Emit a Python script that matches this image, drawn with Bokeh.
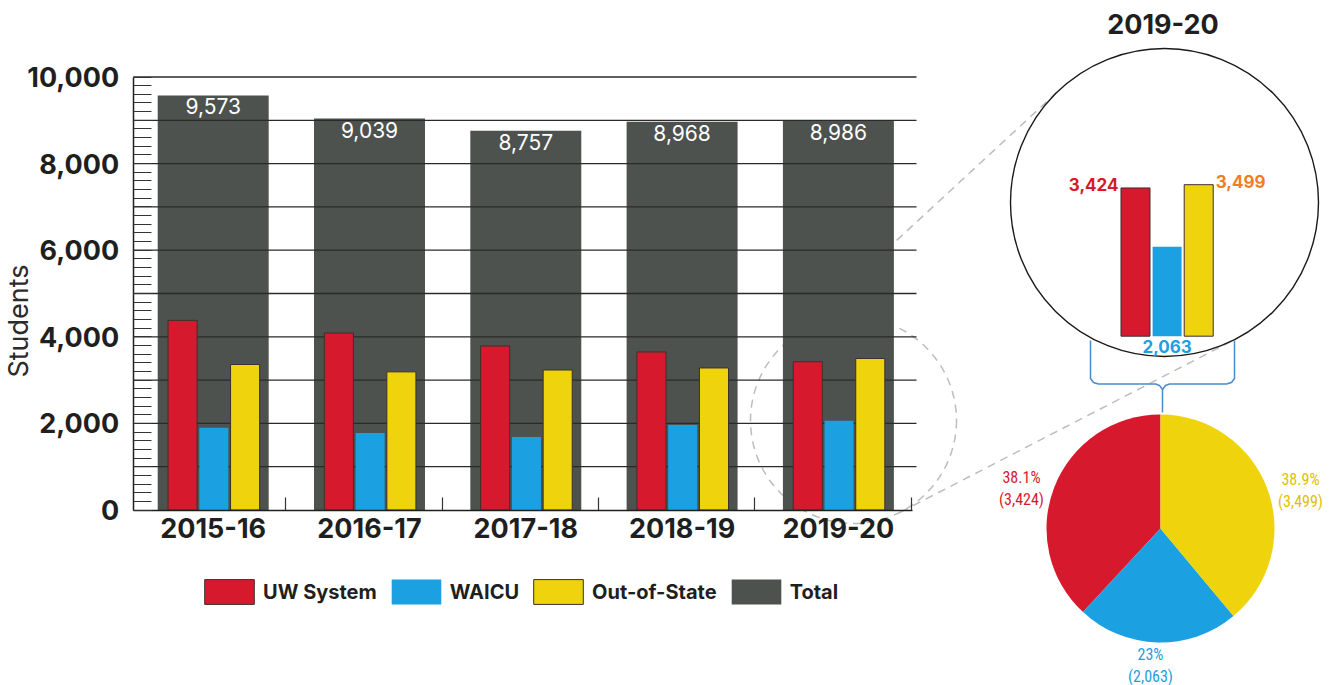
import math
from bokeh.plotting import figure
from bokeh.models import (Range1d, LinearAxis, FixedTicker, NumeralTickFormatter,
                          Legend, LegendItem, ColumnDataSource)
from bokeh.core.properties import value
from bokeh.embed import file_html
from bokeh.resources import INLINE

# ---------------- data ----------------
years = ["2015-16", "2016-17", "2017-18", "2018-19", "2019-20"]
uw_system = [4380, 4088, 3788, 3650, 3424]
waicu = [1900, 1778, 1686, 1963, 2063]
out_of_state = [3360, 3190, 3233, 3280, 3499]
total = [9573, 9039, 8757, 8968, 8986]
series_names = ["UW System", "WAICU", "Out-of-State", "Total"]
y_ticks = [0, 2000, 4000, 6000, 8000, 10000]
inset_year = "2019-20"
inset_values = [3424, 2063, 3499]
pie_pct_labels = ["38.1%", "23%", "38.9%"]

# ---------------- style ----------------
RED, BLUE, YELLOW, GRAY = "#d7192d", "#1ba0e1", "#efd30d", "#4d524e"
ORANGE = "#f07d1e"
INK = "#1f1f1f"
FONT = "Inter"
NARROW = "Liberation Sans Narrow, Roboto Condensed, DejaVu Sans Condensed, Roboto"

# ---------------- layout (page pixels) ----------------
X0, Y0, W, H = 0, 0, 1329, 685
CAT0_PX, CAT_STEP = 212.7, 156.3          # category centres
BASE_PX, PX_PER_UNIT = 509.5, 0.0433      # main chart baseline and scale
AXIS_X_PX, AXIS_END_PX, GRID_END_PX = 132.7, 911.5, 916
INSET_BASE_PX, INSET_X0, INSET_STEP = 335.7, 1135.0, 31.6
BIG = (1164.0, 202.0, 154.0)
SMALL = (853.0, 420.0, 103.0)
PIE = (1160.0, 528.0, 114.0)
STUDENTS_LABEL_Y_PX = 320


def px_to_cat(px):
    return (px - CAT0_PX) / CAT_STEP


def py_to_val(py, base):
    return (base - py) / PX_PER_UNIT


p = figure(width=W, height=H, x_range=Range1d(X0, X0 + W), y_range=Range1d(Y0 + H, Y0),
           x_axis_location=None, y_axis_location=None, toolbar_location=None,
           output_backend="svg", min_border=0, outline_line_color=None,
           background_fill_color="white", border_fill_color="white")
for g in p.grid:
    g.visible = False

p.extra_x_ranges = {
    "cat": Range1d(px_to_cat(X0), px_to_cat(X0 + W)),
    "ins": Range1d((X0 - INSET_X0) / INSET_STEP, (X0 + W - INSET_X0) / INSET_STEP),
}
p.extra_y_ranges = {
    "stu": Range1d(py_to_val(Y0 + H, BASE_PX), py_to_val(Y0, BASE_PX)),
    "ins": Range1d(py_to_val(Y0 + H, INSET_BASE_PX), py_to_val(Y0, INSET_BASE_PX)),
}

# ---------------- zoom decorations (behind the bars) ----------------
DASH = dict(line_color="#bdbdbd", line_width=1.5, line_dash="8 6", level="image")
p.circle(x=[SMALL[0]], y=[SMALL[1]], radius=SMALL[2], fill_color=None, **DASH)


def ext_tangents(c1, c2):
    x1, y1, r1 = c1
    x2, y2, r2 = c2
    d = math.hypot(x2 - x1, y2 - y1)
    phi = math.atan2(y2 - y1, x2 - x1)
    a = math.acos((r2 - r1) / d)
    out = []
    for psi in (phi + a, phi - a):
        nx, ny = math.cos(psi), math.sin(psi)
        out.append((x1 - r1 * nx, y1 - r1 * ny, x2 - r2 * nx, y2 - r2 * ny))
    return out


tg = ext_tangents(SMALL, BIG)
p.segment(x0=[t[0] for t in tg], y0=[t[1] for t in tg],
          x1=[t[2] for t in tg], y1=[t[3] for t in tg], **DASH)

# ---------------- main chart ----------------
idx = list(range(len(years)))
r_tot = p.vbar(x=idx, top=total, bottom=0, width=0.71, x_range_name="cat", y_range_name="stu",
               fill_color=GRAY, line_color=None, level="image")

grid_vals = list(range(1000, 10001, 1000))
p.segment(x0=[px_to_cat(AXIS_X_PX)] * len(grid_vals), x1=[px_to_cat(GRID_END_PX)] * len(grid_vals),
          y0=grid_vals, y1=grid_vals, x_range_name="cat", y_range_name="stu",
          line_color="#2a2a2a", line_width=1.3, level="underlay")

OUT = "#3b3030"
r_uw = p.vbar(x=[i - 0.196 for i in idx], top=uw_system, width=0.186, x_range_name="cat",
              y_range_name="stu", fill_color=RED, line_color=OUT, line_width=1)
r_wa = p.vbar(x=[i + 0.004 for i in idx], top=waicu, width=0.186, x_range_name="cat",
              y_range_name="stu", fill_color=BLUE, line_color=None)
r_os = p.vbar(x=[i + 0.204 for i in idx], top=out_of_state, width=0.186, x_range_name="cat",
              y_range_name="stu", fill_color=YELLOW, line_color=OUT, line_width=1)

p.text(x=idx, y=total, text=[f"{v:,}" for v in total], x_range_name="cat", y_range_name="stu",
       text_color="white", text_font=value(FONT), text_font_size="21px",
       text_align="center", text_baseline="middle", y_offset=11)


def style_axis(ax):
    ax.axis_line_color = INK
    ax.axis_line_width = 1.5
    ax.major_tick_in = 0
    ax.major_tick_out = 0
    ax.minor_tick_out = 0
    ax.minor_tick_line_color = "#333333"
    ax.minor_tick_line_width = 1.2
    ax.major_label_text_font = FONT
    ax.major_label_text_font_style = "bold"
    ax.major_label_text_font_size = "27px"
    ax.major_label_text_color = INK


yaxis = LinearAxis(x_range_name="cat", y_range_name="stu", fixed_location=px_to_cat(AXIS_X_PX),
                   ticker=FixedTicker(ticks=y_ticks, minor_ticks=list(range(0, 10001, 200))),
                   formatter=NumeralTickFormatter(format="0,0"), bounds=(0, 10000))
style_axis(yaxis)
yaxis.minor_tick_in = 18
yaxis.major_label_standoff = 14
p.add_layout(yaxis, "left")

# axis title carried by a tick-less axis so it can sit where the reference puts it
label_mid = py_to_val(STUDENTS_LABEL_Y_PX, BASE_PX)
title_axis = LinearAxis(x_range_name="cat", y_range_name="stu", fixed_location=px_to_cat(AXIS_X_PX),
                        ticker=FixedTicker(ticks=[]), bounds=(0, 2 * label_mid),
                        axis_label="Students")
title_axis.axis_line_color = None
title_axis.major_tick_line_color = None
title_axis.minor_tick_line_color = None
title_axis.major_label_text_font_size = "0px"
title_axis.axis_label_text_font = FONT
title_axis.axis_label_text_font_style = "normal"
title_axis.axis_label_text_font_size = "27px"
title_axis.axis_label_text_color = "#2b2b2b"
title_axis.axis_label_standoff = 99
p.add_layout(title_axis, "left")

xaxis = LinearAxis(x_range_name="cat", y_range_name="stu", fixed_location=0,
                   ticker=FixedTicker(ticks=idx, minor_ticks=[i + 0.465 for i in idx]),
                   major_label_overrides={i: y for i, y in zip(idx, years)},
                   bounds=(px_to_cat(AXIS_X_PX), px_to_cat(AXIS_END_PX)))
style_axis(xaxis)
xaxis.minor_tick_in = 13
xaxis.major_label_standoff = 8
p.add_layout(xaxis, "below")

# legend glyph boxes are drawn at 80% of glyph_width/height by Bokeh
legend = Legend(items=[LegendItem(label=n, renderers=[r])
                       for n, r in zip(series_names, [r_uw, r_wa, r_os, r_tot])],
                orientation="horizontal", location=(198, H - 607), glyph_width=62, glyph_height=31,
                label_standoff=3, spacing=8, padding=0, margin=0,
                border_line_color=None, background_fill_alpha=0,
                label_text_font=FONT, label_text_font_style="bold",
                label_text_font_size="20px", label_text_color=INK)
p.add_layout(legend)

# ---------------- inset (2019-20 zoom) ----------------
p.text(x=[1162.5], y=[23], text=[inset_year], text_font=value(FONT), text_font_style="bold",
       text_font_size="27px", text_color=INK, text_align="center", text_baseline="middle")
p.circle(x=[BIG[0]], y=[BIG[1]], radius=BIG[2], fill_color=None, line_color="#1a1a1a",
         line_width=1.4)

ins_src = ColumnDataSource(dict(x=[0, 1, 2], top=inset_values, color=[RED, BLUE, YELLOW],
                                la=[1, 0, 1]))
p.vbar(x="x", top="top", width=0.918, source=ins_src, x_range_name="ins", y_range_name="ins",
       fill_color="color", line_color=OUT, line_alpha="la", line_width=1)

ins_label_cfg = [  # (align, x_offset, y_offset, anchored at, colour)
    ("right", -17, -3, "top", RED),
    ("center", 0, 10, "bottom", BLUE),
    ("left", 17, -3, "top", ORANGE),
]
for i, (v, (al, xo, yo, where, col)) in enumerate(zip(inset_values, ins_label_cfg)):
    p.text(x=[i], y=[v if where == "top" else 0], text=[f"{v:,}"], x_range_name="ins",
           y_range_name="ins", text_font=value(FONT), text_font_style="bold",
           text_font_size="17px", text_color=col, text_align=al, text_baseline="middle",
           x_offset=xo, y_offset=yo)

# bracket
BR = "#4a8bc9"
p.multi_line(xs=[[1090, 1090, 1093, 1098, 1155, 1159, 1162, 1162],
                 [1234, 1234, 1231, 1226, 1169, 1165, 1162]],
             ys=[[340, 378, 382, 383.5, 383.5, 385, 389, 412],
                 [340, 378, 382, 383.5, 383.5, 385, 389]],
             line_color=BR, line_width=1.5)

# pie
tot = sum(inset_values)
starts, ends = [], []
ang = math.pi / 2
for v in inset_values:
    starts.append(ang)
    ang += 2 * math.pi * v / tot
    ends.append(ang)
p.wedge(x=PIE[0], y=PIE[1], radius=PIE[2], start_angle=starts, end_angle=ends,
        fill_color=[RED, BLUE, YELLOW], line_color=None)

pie_lbl_pos = [(1021, 488), (1150, 665), (1300, 490)]
pie_lbl_col = [RED, BLUE, "#e2bf00"]
p.text(x=[q[0] for q in pie_lbl_pos], y=[q[1] for q in pie_lbl_pos],
       text=[f"{pc}\n({v:,})" for pc, v in zip(pie_pct_labels, inset_values)],
       text_color=pie_lbl_col, text_font=value(NARROW), text_font_size="16px",
       text_align="center", text_baseline="middle", text_line_height=1.2)

open("out.html", "w").write(file_html(p, INLINE))
